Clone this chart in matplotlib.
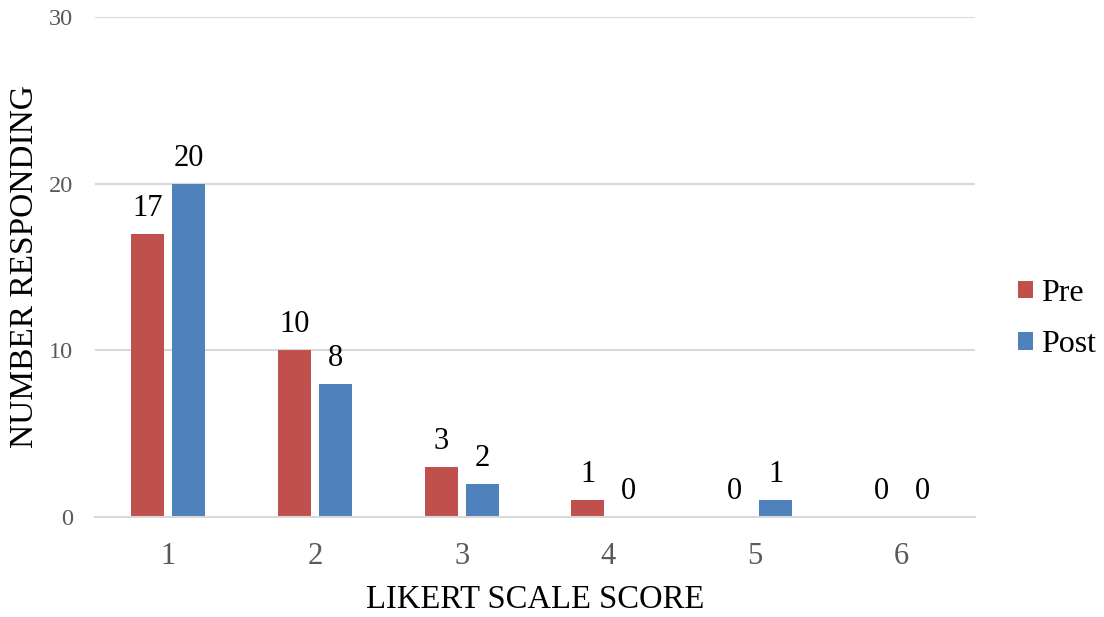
import numpy as np
import matplotlib.pyplot as plt

plt.rcParams['font.family'] = ['Liberation Serif', 'DejaVu Serif']

scores = [1, 2, 3, 4, 5, 6]
pre = [17, 10, 3, 1, 0, 0]
post = [20, 8, 2, 0, 1, 0]

fig = plt.figure(figsize=(11.04, 6.17), dpi=100)
ax = fig.add_axes([95/1104, 1-517/617, 880/1104, 500/617])

x = np.arange(len(scores)) + 1
w = 0.225
off = 0.14
b1 = ax.bar(x - off, pre, w, color='#C0504D', label='Pre')
b2 = ax.bar(x + off, post, w, color='#4F81BD', label='Post')

for bars, vals in [(b1, pre), (b2, post)]:
    for r, v in zip(bars, vals):
        ax.text(r.get_x() + r.get_width()/2, v + 0.65, str(v), ha='center', va='bottom',
                fontsize=22, color='black')

ax.set_xlim(0.5, 6.5)
ax.set_ylim(0, 30)
ax.set_yticks([0, 10, 20, 30])
ax.set_xticks(x)
ax.set_xticklabels([str(s) for s in scores])
ax.grid(axis='y', color='#D9D9D9', linewidth=1.5)
ax.set_axisbelow(True)
for s in ['top', 'right', 'left']:
    ax.spines[s].set_visible(False)
ax.spines['bottom'].set_color('#D9D9D9')
ax.spines['bottom'].set_linewidth(1.5)
ax.tick_params(axis='both', length=0, colors='#595959')
ax.tick_params(axis='y', pad=16, labelsize=17.5)
ax.tick_params(axis='x', pad=18, labelsize=22)

ax.set_xlabel('LIKERT SCALE SCORE', fontsize=23.5, labelpad=10)
ax.set_ylabel('NUMBER RESPONDING', fontsize=24)
ax.yaxis.set_label_coords(-(95 - 40) / 880, 0.5)

ax.legend(loc='center left', bbox_to_anchor=(1018/1104, 1 - 319/617), bbox_transform=fig.transFigure,
          frameon=False, fontsize=23, borderaxespad=0, borderpad=0,
          handlelength=0.47, handleheight=0.47, handletextpad=0.25, labelspacing=0.7)

fig.savefig('out.png', dpi=100)
